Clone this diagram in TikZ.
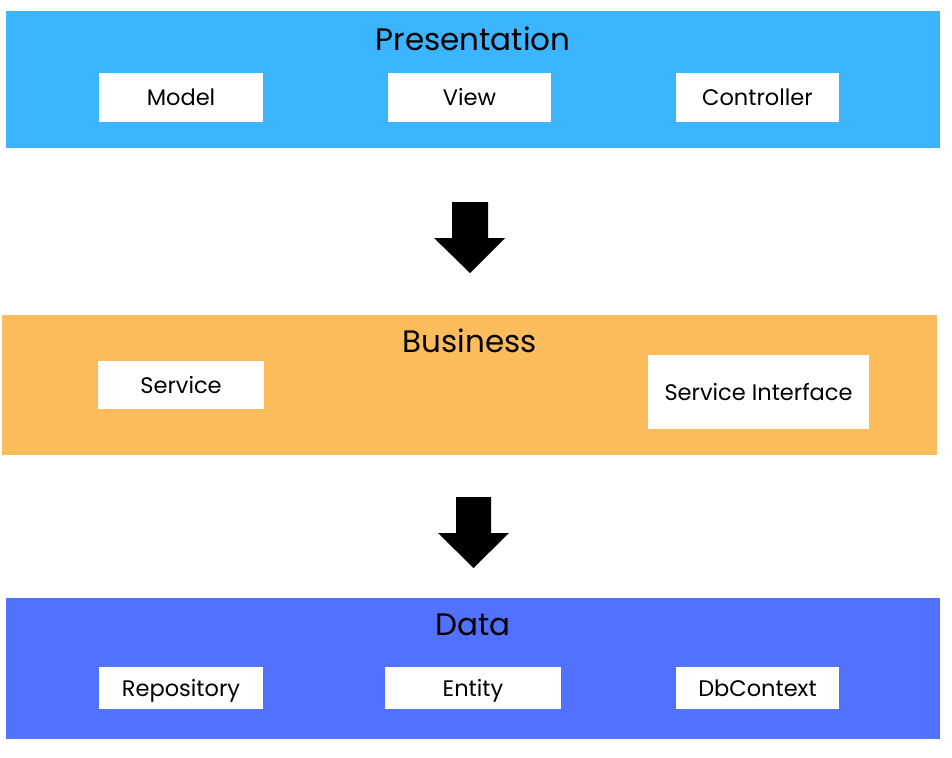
\documentclass[tikz,border=0pt]{standalone}
\usepackage{fontspec}
\setmainfont{Poppins}
\definecolor{presc}{HTML}{3BB5FF}
\definecolor{busc}{HTML}{FDBC5B}
\definecolor{datac}{HTML}{5271FF}
\begin{document}
\begin{tikzpicture}[x=1pt,y=-1pt,
  band/.style={rectangle, inner sep=0pt, draw=none},
  box/.style={rectangle, fill=white, inner sep=0pt, text height=16pt, text depth=0pt, font=\fontsize{22.5}{26}\selectfont},
  ttl/.style={inner sep=0pt, text height=21.5pt, text depth=0pt, font=\fontsize{31}{35}\selectfont},
  blockarrow/.style={fill=black}]
\useasboundingbox[fill=white] (0,0) rectangle (952,757);
% bands
\node[band, fill=presc, minimum width=934, minimum height=137] (pres) at (473,79.5) {};
\node[band, fill=busc, minimum width=935, minimum height=140] (bus) at (469.5,385) {};
\node[band, fill=datac, minimum width=934, minimum height=141] (data) at (473,668.5) {};
% titles
\node[ttl] (prest) at (473,40) {Presentation};
\node[ttl] (bust) at (470,342) {Business};
\node[ttl] (datat) at (473,625) {Data};
% boxes
\node[box, minimum width=164, minimum height=49] (model) at (181,97.5) {Model};
\node[box, minimum width=163, minimum height=49] (view) at (469.5,97.5) {View};
\node[box, minimum width=163, minimum height=49] (ctrl) at (757.5,97.5) {Controller};
\node[box, minimum width=166, minimum height=48] (svc) at (181,385) {Service};
\node[box, minimum width=221, minimum height=74] (svci) at (758.5,392) {Service Interface};
\node[box, minimum width=164, minimum height=42] (repo) at (181,688) {Repository};
\node[box, minimum width=176, minimum height=42] (ent) at (473,688) {Entity};
\node[box, minimum width=163, minimum height=42] (dbc) at (757.5,688) {DbContext};
% block arrows
\fill[blockarrow] (452,202) -- (488,202) -- (488,238) -- (505,238) -- (470,273) -- (434,238) -- (452,238) -- cycle;
\fill[blockarrow] (456,497) -- (491,497) -- (491,533) -- (509,533) -- (473.5,568) -- (438,533) -- (456,533) -- cycle;
\end{tikzpicture}
\end{document}
